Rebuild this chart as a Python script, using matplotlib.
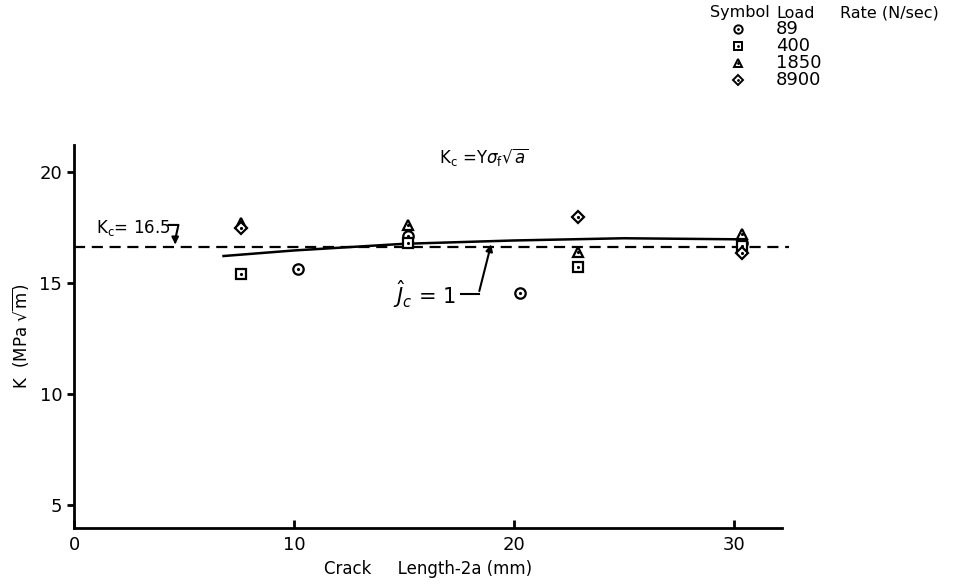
import numpy as np
import matplotlib
matplotlib.use('Agg')
import matplotlib.pyplot as plt

# data
rates = ['89', '400', '1850', '8900']
markers = ['o', 's', '^', 'D']
crack_89 = [10.2, 15.2, 20.3, 30.4]
k_89 = [15.6, 17.1, 14.55, 16.8]
crack_400 = [7.6, 15.2, 22.9, 30.4]
k_400 = [15.4, 16.8, 15.7, 16.65]
crack_1850 = [7.6, 15.2, 22.9, 30.4]
k_1850 = [17.7, 17.6, 16.4, 17.2]
crack_8900 = [7.6, 22.9, 30.4]
k_8900 = [17.45, 17.95, 16.35]
jc_x = [6.8, 10.0, 15.0, 20.0, 25.0, 30.5]
jc_k = [16.2, 16.45, 16.75, 16.9, 17.0, 16.95]
kc_line = 16.6

series_x = [crack_89, crack_400, crack_1850, crack_8900]
series_k = [k_89, k_400, k_1850, k_8900]

plt.rcParams['font.family'] = ['DejaVu Sans']
fig = plt.figure(figsize=(9.69, 5.84), dpi=100)
ax = fig.add_axes([0.0764, 0.0959, 0.7307, 0.6558])
ax.set_xlim(0, 32.2)
ax.set_ylim(3.95, 21.2)

for s in ['top', 'right']:
    ax.spines[s].set_visible(False)
for s in ['left', 'bottom']:
    ax.spines[s].set_linewidth(2)

ax.set_xticks([0, 10, 20, 30])
ax.set_yticks([5, 10, 15, 20])
ax.tick_params(axis='x', direction='in', length=6, width=2, labelsize=13, pad=6)
ax.tick_params(axis='y', direction='out', length=5, width=2, labelsize=13)

# dashed Kc line and the Jc = 1 curve
ax.plot([0, 32.5], [kc_line, kc_line], ls=(0, (5, 3)), color='black', lw=1.6, clip_on=False)
ax.plot(jc_x, jc_k, color='black', lw=1.8)

for xs, ks, m in zip(series_x, series_k, markers):
    ms = 7.5 if m != 'D' else 6.5
    ax.plot(xs, ks, ls='none', marker=m, ms=ms, mfc='white', mec='black', mew=1.6)
    ax.plot(xs, ks, ls='none', marker='.', ms=2.5, color='black')

ax.set_xlabel('Crack     Length-2a (mm)', fontsize=12, labelpad=4)
ax.set_ylabel(r'K  (MPa $\sqrt{\mathrm{m}}$)', fontsize=12, labelpad=6)

ax.text(16.6, 20.4, r'K$_\mathrm{c}$ =Y$\sigma_\mathrm{f}\sqrt{a}$', fontsize=12)
ax.text(1.0, 17.45, r'K$_\mathrm{c}$= 16.5', fontsize=12, va='center')
ax.plot([4.3, 4.75, 4.6], [17.6, 17.6, 16.95], color='black', lw=1.5)
ax.annotate('', xy=(4.6, kc_line), xytext=(4.6, 17.0),
            arrowprops=dict(arrowstyle='-|>', color='black', lw=1.5))
ax.text(14.5, 14.5, r'$\hat{J}_c$ = 1', fontsize=15, va='center')
ax.plot([17.6, 18.4], [14.5, 14.5], color='black', lw=1.5)
ax.annotate('', xy=(19.0, 16.85), xytext=(18.4, 14.5),
            arrowprops=dict(arrowstyle='-|>', color='black', lw=1.5))

# symbol table at top right
fig.text(710 / 969, 1 - 13 / 584, 'Symbol', fontsize=11.5, va='center')
fig.text(776 / 969, 1 - 13 / 584, 'Load', fontsize=11.5, va='center')
fig.text(840 / 969, 1 - 13 / 584, 'Rate (N/sec)', fontsize=11.5, va='center')
for i, (r, m) in enumerate(zip(rates, markers)):
    y = 1 - (29 + 17 * i) / 584
    fig.lines.append(plt.Line2D([738 / 969], [y], transform=fig.transFigure, ls='none',
                                marker=m, ms=6 if m != 'D' else 5, mfc='white',
                                mec='black', mew=1.4))
    fig.lines.append(plt.Line2D([738 / 969], [y], transform=fig.transFigure, ls='none',
                                marker='.', ms=2, color='black'))
    fig.text(776 / 969, y, r, fontsize=13, va='center')

fig.savefig('out.png', dpi=100)
